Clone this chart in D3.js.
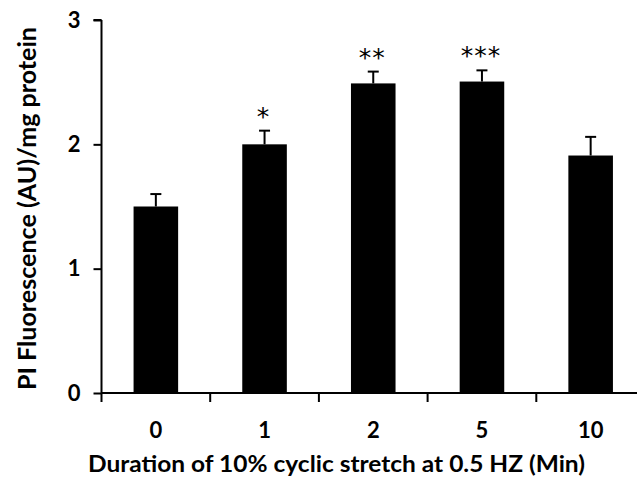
<!DOCTYPE html>
<html><head><meta charset="utf-8">
<script src="https://cdn.jsdelivr.net/npm/d3@7/dist/d3.min.js"></script>
<style>
html,body{margin:0;padding:0;background:#fff;}
svg{display:block;}
text{font-family:"Lato","Open Sans",sans-serif;font-weight:bold;fill:#000;}
</style></head>
<body>
<svg id="chart" width="637" height="479"></svg>
<script>
const categories = ["0", "1", "2", "5", "10"];
const values = [1.50, 2.00, 2.49, 2.505, 1.91];
const errors = [0.10, 0.11, 0.095, 0.09, 0.15];
const stars = ["", "*", "**", "***", ""];
const yTicks = [0, 1, 2, 3];
const xTitle = "Duration of 10% cyclic stretch at 0.5 HZ (Min)";
const yTitle = "PI Fluorescence (AU)/mg protein";

const svg = d3.select("#chart");
const x0 = 101.5, x1 = 645, yTop = 20, yBottom = 393;

const x = d3.scaleBand().domain(categories).range([x0, x1]).paddingInner(0.59).paddingOuter(0.295);
const y = d3.scaleLinear().domain([0, 3]).range([yBottom, yTop]);

// bars
svg.append("g").selectAll("rect").data(categories).join("rect")
  .attr("x", d => x(d))
  .attr("y", (d, i) => y(values[i]))
  .attr("width", x.bandwidth())
  .attr("height", (d, i) => y(0) - y(values[i]))
  .attr("fill", "#000");

// error bars
const eb = svg.append("g").attr("stroke", "#000").attr("stroke-width", 2);
categories.forEach((c, i) => {
  const cx = x(c) + x.bandwidth() / 2;
  eb.append("line").attr("x1", cx).attr("x2", cx).attr("y1", y(values[i])).attr("y2", y(values[i] + errors[i]));
  eb.append("line").attr("x1", cx - 5.5).attr("x2", cx + 5.5).attr("y1", y(values[i] + errors[i])).attr("y2", y(values[i] + errors[i]));
});

// stars
svg.append("g").selectAll("text").data(categories).join("text")
  .attr("x", d => x(d) + x.bandwidth() / 2 - 1)
  .attr("y", (d, i) => y(values[i] + errors[i]) - 6)
  .attr("text-anchor", "middle")
  .attr("font-size", 25)
  .style("font-family", "'DejaVu Sans', sans-serif")
  .style("font-weight", "normal")
  .style("letter-spacing", "1px")
  .text((d, i) => stars[i]);

// y axis
const yAxis = d3.axisLeft(y).tickValues(yTicks).tickSize(8).tickPadding(13).tickFormat(d3.format("d"));
const gy = svg.append("g").attr("transform", `translate(${x0},0)`).call(yAxis);
gy.select(".domain").attr("stroke", "#000").attr("stroke-width", 2).attr("d", `M0,${yTop}H-8M0,${yTop}V${yBottom}`);
gy.selectAll(".tick line").attr("stroke", "#000").attr("stroke-width", 2);
gy.selectAll(".tick text").attr("font-size", 22).style("font-family", "Lato, sans-serif").style("font-weight", "bold");

// x axis
const xAxis = d3.axisBottom(x).tickSize(0).tickPadding(29);
const gx = svg.append("g").attr("transform", `translate(0,${yBottom})`).call(xAxis);
gx.select(".domain").attr("stroke", "#000").attr("stroke-width", 2).attr("d", `M${x0},0H${x1}`);
gx.selectAll(".tick text").attr("font-size", 22).style("font-family", "Lato, sans-serif").style("font-weight", "bold");
// boundary ticks between categories
const bounds = categories.map((c, i) => x0 + i * x.step());
svg.append("g").attr("stroke", "#000").attr("stroke-width", 2).selectAll("line").data(bounds).join("line")
  .attr("x1", d => d).attr("x2", d => d).attr("y1", yBottom).attr("y2", yBottom + 9);

// titles
svg.append("text").attr("x", 336.5).attr("y", 472).attr("text-anchor", "middle")
  .attr("font-size", 23).attr("textLength", 497).attr("lengthAdjust", "spacingAndGlyphs").text(xTitle);
svg.append("text").attr("transform", "translate(36,208.5) rotate(-90)").attr("text-anchor", "middle")
  .attr("font-size", 24).attr("textLength", 363).attr("lengthAdjust", "spacingAndGlyphs").text(yTitle);
</script>
</body></html>
